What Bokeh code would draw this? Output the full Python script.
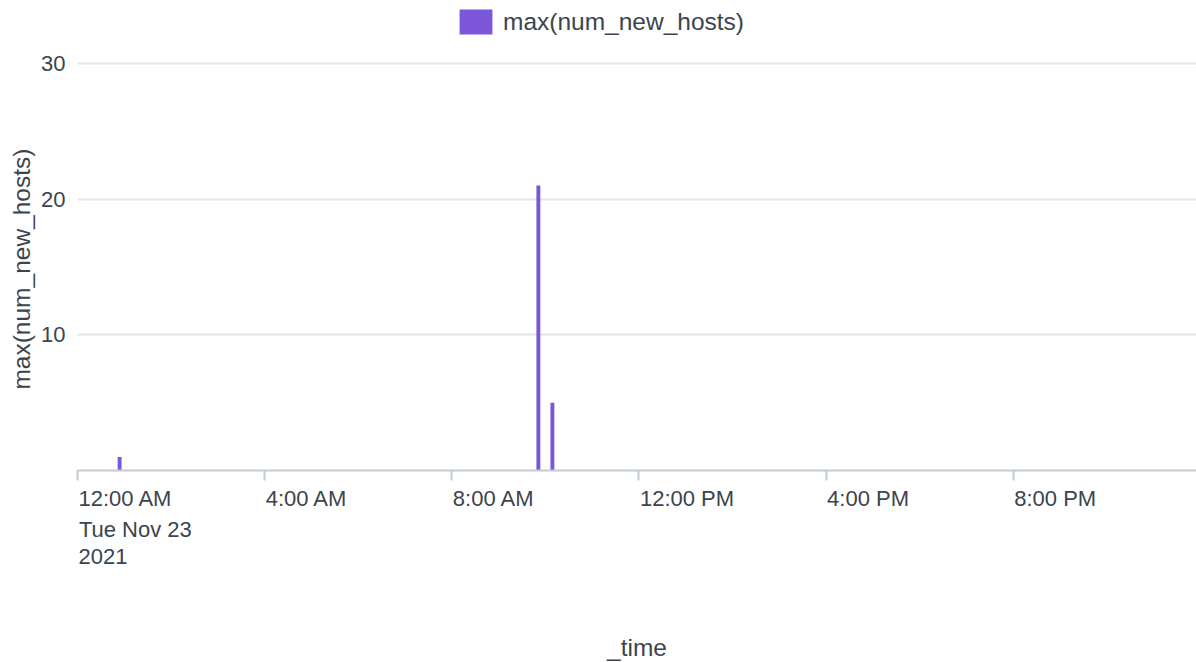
from datetime import datetime
from bokeh.plotting import figure
from bokeh.models import (ColumnDataSource, Range1d, FixedTicker, Legend, LegendItem,
                          DatetimeAxis, Title)
from bokeh.embed import file_html
from bokeh.resources import INLINE

# data
times = ["2021-11-23 00:54", "2021-11-23 09:51", "2021-11-23 10:09"]
values = [1, 21, 5]
series_name = "max(num_new_hosts)"
tick_times = ["2021-11-23 00:00", "2021-11-23 04:00", "2021-11-23 08:00",
              "2021-11-23 12:00", "2021-11-23 16:00", "2021-11-23 20:00"]
tick_labels = ["12:00 AM", "4:00 AM", "8:00 AM", "12:00 PM", "4:00 PM", "8:00 PM"]
first_tick_line2 = "Tue Nov 23"
first_tick_line3 = "2021"
y_ticks = [10, 20, 30]
y_max_tick = 30
x_start, x_end = "2021-11-23 00:00", "2021-11-23 23:55"

FONT = "Liberation Sans"
TXT = "#3c444d"
BAR = "#7B56DB"
TITLE_SIZE = "24.5px"
FW, FH = 1119, 470          # frame extends up to the canvas top (legend lives inside)
PLOT_H = 407                # pixel height from 0 to the top tick

def ms(s):
    d = datetime.strptime(s, "%Y-%m-%d %H:%M")
    return (d - datetime(1970, 1, 1)).total_seconds() * 1000.0

# approximate rendered label widths (px) used to left-align labels at their ticks
def text_w(s, size=22):
    wd = {"1": .556, "2": .556, "0": .556, "3": .556, "4": .556, "8": .556, ":": .278,
          " ": .278, "A": .667, "P": .667, "M": .833, "T": .611, "u": .556, "e": .556,
          "N": .722, "o": .556, "v": .5}
    return sum(wd.get(c, .556) for c in s) * size

px_per_ms = FW / (ms(x_end) - ms(x_start))
def shifted(t, s):
    return ms(t) + (text_w(s) / 2 + 1) / px_per_ms

xs = [ms(t) for t in times]
src = ColumnDataSource(dict(x=xs, top=values))

p = figure(frame_width=FW, frame_height=FH, x_axis_type="datetime",
           output_backend="svg", toolbar_location=None,
           x_range=Range1d(ms(x_start), ms(x_end)),
           y_range=Range1d(0, y_max_tick * FH / PLOT_H),
           min_border_left=77, min_border_right=0, min_border_top=0, min_border_bottom=192)
p.outline_line_color = None

r = p.vbar(x="x", top="top", width=5 * 60 * 1000, source=src,
           fill_color=BAR, line_color=None)

# main x axis: line + tick marks only
xa = p.xaxis[0]
xa.ticker = FixedTicker(ticks=[ms(t) for t in tick_times])
xa.major_label_overrides = {ms(t): "" for t in tick_times}
xa.major_label_text_font_size = "1px"
xa.major_label_standoff = 0
xa.major_tick_out = 10
xa.major_tick_in = 0
xa.minor_tick_out = 0
xa.minor_tick_in = 0
xa.axis_line_color = "#c3cbd4"
xa.major_tick_line_color = "#c3cbd4"
xa.axis_line_width = 2
xa.major_tick_line_width = 2

def label_axis(ticks_map, standoff, label=None, label_standoff=0):
    ax = DatetimeAxis(ticker=FixedTicker(ticks=list(ticks_map.keys())),
                      major_label_overrides=ticks_map,
                      major_label_text_font=FONT, major_label_text_font_size="22px",
                      major_label_text_color=TXT, major_label_standoff=standoff,
                      axis_line_color=None, major_tick_line_color=None,
                      minor_tick_line_color=None, major_tick_out=0, major_tick_in=0,
                      minor_tick_out=0, minor_tick_in=0)
    if label:
        ax.axis_label = label
        ax.axis_label_text_font = FONT
        ax.axis_label_text_font_size = TITLE_SIZE
        ax.axis_label_text_font_style = "normal"
        ax.axis_label_text_color = TXT
        ax.axis_label_standoff = label_standoff
    p.add_layout(ax, "below")
    return ax

label_axis({shifted(t, l): l for t, l in zip(tick_times, tick_labels)}, 5)
label_axis({shifted(tick_times[0], first_tick_line2): first_tick_line2}, 3)
label_axis({shifted(tick_times[0], first_tick_line3): first_tick_line3}, 4,
           label="_time", label_standoff=67)

# y axis
ya = p.yaxis[0]
ya.ticker = FixedTicker(ticks=y_ticks)
ya.major_label_text_font = FONT
ya.major_label_text_font_size = "22px"
ya.major_label_text_color = TXT
ya.major_label_standoff = 12
ya.major_tick_out = 0
ya.major_tick_in = 0
ya.minor_tick_out = 0
ya.minor_tick_in = 0
ya.axis_line_color = None

# y axis title, centred on the 0..30 part of the frame
ylen = text_w(series_name, 24.5)
ytitle = Title(text=series_name, align="left", offset=PLOT_H / 2 - ylen / 2,
               text_font=FONT, text_font_size=TITLE_SIZE, text_font_style="normal",
               text_color=TXT, standoff=8)
p.add_layout(ytitle, "left")

p.xgrid.grid_line_color = None
p.ygrid.grid_line_color = "#e1e6eb"
p.ygrid.grid_line_width = 2

# legend (bar swatch is drawn at 80% of the glyph box)
legend = Legend(items=[LegendItem(label=series_name, renderers=[r])],
                orientation="horizontal", location=(378, FH - 37),
                label_text_font=FONT, label_text_font_size=TITLE_SIZE,
                label_text_color=TXT, glyph_width=41, glyph_height=31,
                border_line_color=None, background_fill_alpha=0,
                padding=0, margin=0, spacing=0, label_standoff=7)
p.add_layout(legend, "center")

open("out.html", "w").write(file_html(p, INLINE))
